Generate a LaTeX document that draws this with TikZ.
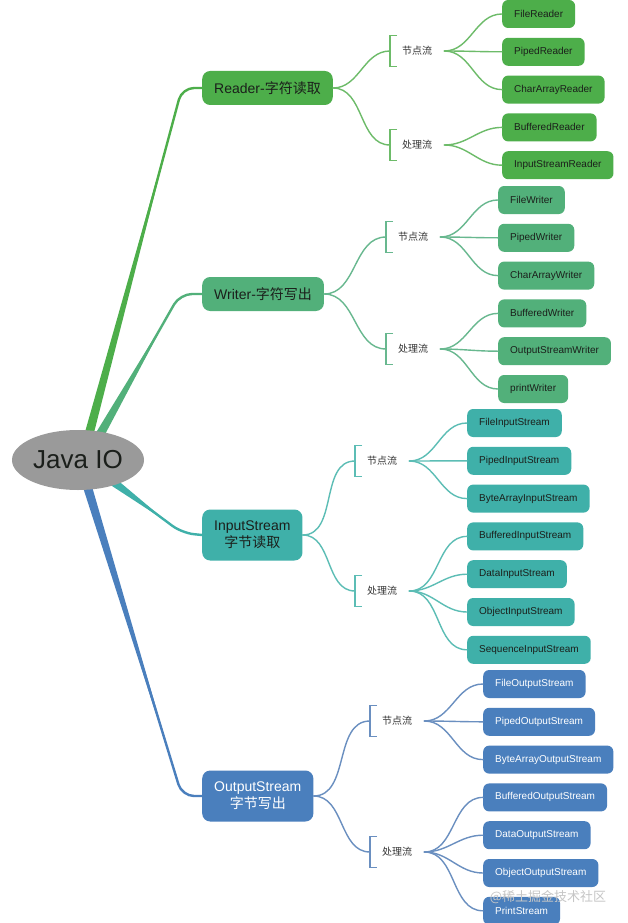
\documentclass[tikz,border=0pt]{standalone}
\usepackage{fontspec}
\setmainfont{Liberation Sans}
\newfontfamily\cjk{Noto Sans CJK SC}
\usetikzlibrary{positioning,shapes.geometric,calc,backgrounds}
\definecolor{rootgray}{HTML}{9A9A9A}
\definecolor{rdbox}{HTML}{4DAE4A}
\definecolor{rdlink}{HTML}{6DBB69}
\definecolor{wrbox}{HTML}{52B07A}
\definecolor{wrlink}{HTML}{68B88F}
\definecolor{inbox}{HTML}{3FB0A9}
\definecolor{inlink}{HTML}{5CBDB5}
\definecolor{outbox}{HTML}{4A7FBD}
\definecolor{outlink}{HTML}{6A8FC0}
\definecolor{ink}{HTML}{1B1F1B}
\definecolor{labelink}{HTML}{333333}
\tikzset{
  root/.style={ellipse, fill=rootgray, minimum width=132pt, minimum height=60pt, inner sep=0pt, text=ink, font=\fontsize{26}{28}\selectfont},
  topic/.style={rounded corners=8pt, minimum height=34pt, inner xsep=12pt, inner ysep=3pt, anchor=west, align=center, text=ink, font=\fontsize{14}{17}\selectfont},
  lbl/.style={minimum height=31pt, inner xsep=12pt, inner ysep=0pt, anchor=west, text=labelink, font=\cjk\fontsize{10}{12}\selectfont},
  leaf/.style={rounded corners=6pt, minimum height=28pt, inner xsep=12pt, inner ysep=0pt, anchor=west, text=ink, font=\fontsize{10}{12}\selectfont},
  stack/.style={below=9.4pt of #1.south west, anchor=north west},
  link/.style={line width=1.4pt, line cap=round},
  trunk/.style={line width=2.4pt, rounded corners=12pt},
  wmark/.style={text=gray!45, font=\cjk\fontsize{13}{15}\selectfont},
}
\begin{document}
\begin{tikzpicture}[x=1pt, y=-1pt]
  \useasboundingbox (0,0) rectangle (628,923);
  \node[root] (java) at (78,460) {Java IO};

  % Reader
  \node[topic, fill=rdbox] (reader) at (202,88) {Reader-{\cjk 字符读取}};
  \node[lbl] (rd-node) at (390,51) {节点流};
  \node[lbl] (rd-proc) at (390,145) {处理流};
  \node[leaf, fill=rdbox] (rd-file) at (502,14) {FileReader};
  \node[leaf, fill=rdbox, stack=rd-file] (rd-piped) {PipedReader};
  \node[leaf, fill=rdbox, stack=rd-piped] (rd-char) {CharArrayReader};
  \node[leaf, fill=rdbox, stack=rd-char] (rd-buf) {BufferedReader};
  \node[leaf, fill=rdbox, stack=rd-buf] (rd-isr) {InputStreamReader};

  % Writer
  \node[topic, fill=wrbox] (writer) at (202,294) {Writer-{\cjk 字符写出}};
  \node[lbl] (wr-node) at (386,237) {节点流};
  \node[lbl] (wr-proc) at (386,349) {处理流};
  \node[leaf, fill=wrbox] (wr-file) at (498,200) {FileWriter};
  \node[leaf, fill=wrbox, stack=wr-file] (wr-piped) {PipedWriter};
  \node[leaf, fill=wrbox, stack=wr-piped] (wr-char) {CharArrayWriter};
  \node[leaf, fill=wrbox, stack=wr-char] (wr-buf) {BufferedWriter};
  \node[leaf, fill=wrbox, stack=wr-buf] (wr-osw) {OutputStreamWriter};
  \node[leaf, fill=wrbox, stack=wr-osw] (wr-print) {printWriter};

  % InputStream
  \node[topic, fill=inbox, minimum height=51pt] (instream) at (202,535) {InputStream\\{\cjk 字节读取}};
  \node[lbl] (in-node) at (355,461) {节点流};
  \node[lbl] (in-proc) at (355,591) {处理流};
  \node[leaf, fill=inbox] (in-file) at (467,423) {FileInputStream};
  \node[leaf, fill=inbox, stack=in-file] (in-piped) {PipedInputStream};
  \node[leaf, fill=inbox, stack=in-piped] (in-byte) {ByteArrayInputStream};
  \node[leaf, fill=inbox, stack=in-byte] (in-buf) {BufferedInputStream};
  \node[leaf, fill=inbox, stack=in-buf] (in-data) {DataInputStream};
  \node[leaf, fill=inbox, stack=in-data] (in-obj) {ObjectInputStream};
  \node[leaf, fill=inbox, stack=in-obj] (in-seq) {SequenceInputStream};

  % OutputStream
  \node[topic, fill=outbox, text=white, minimum height=51pt] (outstream) at (202,796) {OutputStream\\{\cjk 字节写出}};
  \node[lbl] (out-node) at (370,721) {节点流};
  \node[lbl] (out-proc) at (370,852) {处理流};
  \node[leaf, fill=outbox, text=white] (out-file) at (483,684) {FileOutputStream};
  \node[leaf, fill=outbox, text=white, stack=out-file] (out-piped) {PipedOutputStream};
  \node[leaf, fill=outbox, text=white, stack=out-piped] (out-byte) {ByteArrayOutputStream};
  \node[leaf, fill=outbox, text=white, stack=out-byte] (out-buf) {BufferedOutputStream};
  \node[leaf, fill=outbox, text=white, stack=out-buf] (out-data) {DataOutputStream};
  \node[leaf, fill=outbox, text=white, stack=out-data] (out-obj) {ObjectOutputStream};
  \node[leaf, fill=outbox, text=white, stack=out-obj] (out-print) {PrintStream};

  \node[wmark] (wm) at (548,897) {@稀土掘金技术社区};

  % trunks from the root
  \begin{scope}[on background layer]
    \fill[white] (0,0) rectangle (628,923);
    \coordinate (rd-a) at ($(java.center)+(10,-22)$);
    \coordinate (rd-b) at (182,88);
    \coordinate (wr-a) at ($(java.center)+(20,-22)$);
    \coordinate (wr-b) at (180,294);
    \coordinate (in-a) at ($(java.center)+(30,18)$);
    \coordinate (in-b) at (182,533);
    \coordinate (out-a) at ($(java.center)+(8,22)$);
    \coordinate (out-b) at (182,796);
    \fill[rdbox] ($(rd-a)!4.5pt!90:(rd-b)$) -- ($(rd-a)!0.92!(rd-b)$) -- ($(rd-a)!4.5pt!-90:(rd-b)$) -- cycle;
    \draw[trunk, rdbox] (rd-a) -- (rd-b) -- (reader.west);
    \fill[wrbox] ($(wr-a)!4.5pt!90:(wr-b)$) -- ($(wr-a)!0.88!(wr-b)$) -- ($(wr-a)!4.5pt!-90:(wr-b)$) -- cycle;
    \draw[trunk, wrbox] (wr-a) -- (wr-b) -- (writer.west);
    \fill[inbox] ($(in-a)!4.5pt!90:(in-b)$) -- ($(in-a)!0.8!(in-b)$) -- ($(in-a)!4.5pt!-90:(in-b)$) -- cycle;
    \draw[trunk, inbox] (in-a) -- (in-b) -- (instream.west);
    \fill[outbox] ($(out-a)!4.5pt!90:(out-b)$) -- ($(out-a)!0.93!(out-b)$) -- ($(out-a)!4.5pt!-90:(out-b)$) -- cycle;
    \draw[trunk, outbox] (out-a) -- (out-b) -- (outstream.west);
  \end{scope}

  % topics to brackets
  \draw[link, rdlink] (reader.east) to[out=0,in=180] (rd-node.west);
  \draw[link, rdlink] (reader.east) to[out=0,in=180] (rd-proc.west);
  \draw[link, wrlink] (writer.east) to[out=0,in=180] (wr-node.west);
  \draw[link, wrlink] (writer.east) to[out=0,in=180] (wr-proc.west);
  \draw[link, inlink] (instream.east) to[out=0,in=180] (in-node.west);
  \draw[link, inlink] (instream.east) to[out=0,in=180] (in-proc.west);
  \draw[link, outlink] (outstream.east) to[out=0,in=180] (out-node.west);
  \draw[link, outlink] (outstream.east) to[out=0,in=180] (out-proc.west);

  % brackets
  \foreach \b/\c in {rd-node/rdlink, rd-proc/rdlink, wr-node/wrlink, wr-proc/wrlink,
                     in-node/inlink, in-proc/inlink, out-node/outlink, out-proc/outlink}
    \draw[link, \c, line cap=butt] ([xshift=7pt]\b.north west) -- (\b.north west) -- (\b.south west) -- ([xshift=7pt]\b.south west);

  % brackets to leaves
  \foreach \l in {file, piped, char} \draw[link, rdlink] (rd-node.east) to[out=0,in=180] (rd-\l.west);
  \foreach \l in {buf, isr} \draw[link, rdlink] (rd-proc.east) to[out=0,in=180] (rd-\l.west);
  \foreach \l in {file, piped, char} \draw[link, wrlink] (wr-node.east) to[out=0,in=180] (wr-\l.west);
  \foreach \l in {buf, osw, print} \draw[link, wrlink] (wr-proc.east) to[out=0,in=180] (wr-\l.west);
  \foreach \l in {file, piped, byte} \draw[link, inlink] (in-node.east) to[out=0,in=180] (in-\l.west);
  \foreach \l in {buf, data, obj, seq} \draw[link, inlink] (in-proc.east) to[out=0,in=180] (in-\l.west);
  \foreach \l in {file, piped, byte} \draw[link, outlink] (out-node.east) to[out=0,in=180] (out-\l.west);
  \foreach \l in {buf, data, obj, print} \draw[link, outlink] (out-proc.east) to[out=0,in=180] (out-\l.west);
\end{tikzpicture}
\end{document}
